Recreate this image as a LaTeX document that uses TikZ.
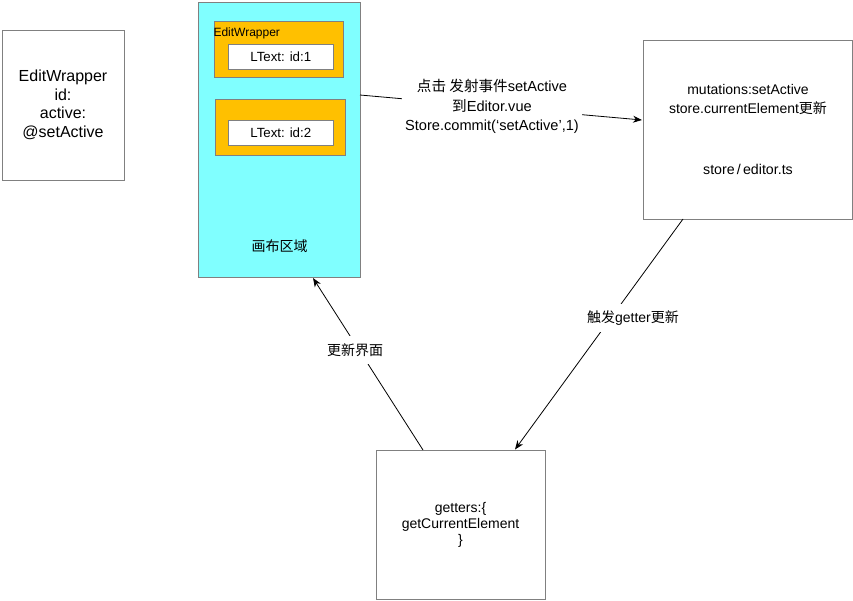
\documentclass[tikz,border=0pt]{standalone}
\usepackage{fontspec}
\setmainfont{Liberation Sans}
\newfontfamily\cjk{Noto Sans CJK SC}
\newcommand\zh[1]{{\cjk #1}}
\usetikzlibrary{arrows.meta}
\definecolor{canvascyan}{HTML}{80FFFF}
\definecolor{wraporange}{HTML}{FFC000}
\definecolor{edgegray}{HTML}{808080}
\tikzset{
  box/.style={draw=edgegray, line width=0.9pt, rectangle, inner sep=0pt, align=center},
  arr/.style={draw=black, line width=0.8pt, -{Stealth[length=9pt,width=7pt]}},
  lbl/.style={fill=white, inner xsep=3pt, inner ysep=7pt, align=center, font=\fontsize{14}{19}\selectfont},
}
\begin{document}
\begin{tikzpicture}[x=1pt,y=-1pt]
\useasboundingbox (0,0) rectangle (853,600);
% left box
\node[box, minimum width=122pt, minimum height=150pt, font=\fontsize{16}{18.5}\selectfont] (left) at (63,105) {EditWrapper\\id:\\active:\\@setActive};
% canvas
\node[box, fill=canvascyan, minimum width=162pt, minimum height=275pt] (canvas) at (279,139.5) {};
\node[font=\fontsize{14}{16}\selectfont, inner sep=0pt] (canvaslbl) at (279.5,246) {\zh{画布区域}};
\node[box, fill=wraporange, minimum width=129pt, minimum height=56pt] (ew1) at (278.8,49.5) {};
\node[box, fill=white, minimum width=105pt, minimum height=25pt, font=\fontsize{13.3}{15}\selectfont] (lt1) at (280.8,56.8) {LText: id:1};
\node[box, fill=wraporange, minimum width=129.6pt, minimum height=56pt] (ew2) at (280.5,127.3) {};
\node[box, fill=white, minimum width=105pt, minimum height=24.6pt, font=\fontsize{13.3}{15}\selectfont] (lt2) at (280.8,133) {LText: id:2};
\node[anchor=west, inner sep=0pt, font=\fontsize{12}{14}\selectfont] (ewlbl) at (213.3,33) {EditWrapper};
% store box
\node[box, minimum width=209pt, minimum height=179pt] (store) at (747.5,129.5) {};
\node[align=center, inner sep=0pt, font=\fontsize{14}{19}\selectfont] (storetxt) at (748,99.5) {mutations:setActive\\store.currentElement\zh{更新}};
\node[inner sep=0pt, font=\fontsize{14.2}{17}\selectfont] (storefile) at (748,169.5) {store\kern2.2pt/\kern2.2pt editor.ts};
% getters box
\node[box, minimum width=169pt, minimum height=149pt, font=\fontsize{14}{16}\selectfont] (getters) at (460.5,524.5) {getters:\{\\getCurrentElement\\\}};
% connector endpoints
\coordinate (t1) at (360,95);
\coordinate (t2) at (642,120);
\coordinate (g1) at (423,450);
\coordinate (c1) at (313,278);
\coordinate (s1) at (683,219);
\coordinate (g2) at (515,449.5);
\draw[arr] (t1) -- (t2);
\draw[arr] (g1) -- (c1);
\draw[arr] (s1) -- (g2);
\node[lbl, font=\fontsize{14.6}{19.2}\selectfont] (toplbl) at (492,106.5) {\zh{点击 发射事件}setActive\\\zh{到}Editor.vue\\Store.commit(‘setActive’,1)};
\node[lbl] (uilbl) at (355,350) {\zh{更新界面}};
\node[lbl] (getlbl) at (633,318) {\zh{触发}getter\zh{更新}};
\end{tikzpicture}
\end{document}
